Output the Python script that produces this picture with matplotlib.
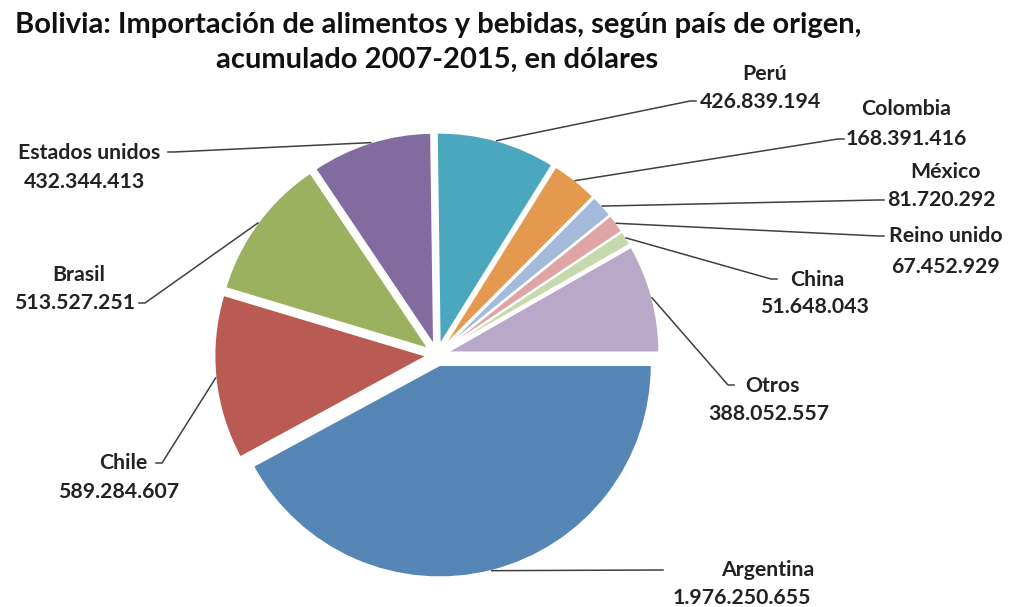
import numpy as np
import matplotlib.pyplot as plt

# Data: imports by country of origin, accumulated 2007-2015 (USD)
countries = ["Argentina", "Chile", "Brasil", "Estados unidos", "Perú",
             "Colombia", "México", "Reino unido", "China", "Otros"]
values = [1976250655, 589284607, 513527251, 432344413, 426839194,
          168391416, 81720292, 67452929, 51648043, 388052557]
colors = ["#5586B6", "#B95B53", "#9CB160", "#826C9F", "#4BA7BE",
          "#E4994E", "#A4BADB", "#DEA5A4", "#C6D9AD", "#B9A9C9"]

W, H = 1010, 607

# label layout in pixel coords (from top-left): name centre, value centre, leader end
name_pos = [(768, 570), (123, 463), (79, 275), (89, 153), (765, 74),
            (906, 109), (946, 172), (946, 236), (817, 280), (773, 386)]
value_pos = [(742, 598), (119, 492), (75, 303), (84, 182), (760, 102),
             (906, 139), (941, 200), (945, 267), (815, 307), (769, 414)]
leader_end = [(663, 570), (156, 463), (139, 303), (168, 152), (696, 101),
              (844, 139), (884, 200), (884, 236), (777, 279), (734, 385)]

plt.rcParams['font.family'] = ['Lato', 'DejaVu Sans']

fig = plt.figure(figsize=(W / 100, H / 100), dpi=100)
ax = fig.add_axes([0, 0, 1, 1])
ax.set_xlim(0, W)
ax.set_ylim(0, H)
ax.set_aspect('equal')
ax.axis('off')

radius = 212
wedges, _ = ax.pie(values, colors=colors, startangle=0, counterclock=False,
                   center=(437, H - 355), radius=radius,
                   explode=[10.5] * len(values),
                   wedgeprops=dict(edgecolor='white', linewidth=1.2))
ax.set_xlim(0, W)
ax.set_ylim(0, H)


def fmt(v):
    return f"{v:,}".replace(",", ".")


for i, w in enumerate(wedges):
    mid = np.deg2rad((w.theta1 + w.theta2) / 2)
    ax0 = w.center[0] + w.r * np.cos(mid)
    ay0 = w.center[1] + w.r * np.sin(mid)
    ex, ey = leader_end[i]
    ey = H - ey
    step = 6 if ex > ax0 else -6
    ax.plot([ax0, ex - step, ex], [ay0, ey, ey], color='#404040', lw=1.1)

    nx, ny = name_pos[i]
    vx, vy = value_pos[i]
    ax.text(nx, H - ny, countries[i], ha='center', va='center',
            fontsize=15.3, fontweight='bold', color='#222222')
    ax.text(vx, H - vy, fmt(values[i]), ha='center', va='center',
            fontsize=15.3, fontweight='bold', color='#222222')

ax.text(438, H - 25, "Bolivia: Importación de alimentos y bebidas, según país de origen,",
        ha='center', va='center', fontsize=21, fontweight='bold', color='#111111')
ax.text(437, H - 60, "acumulado 2007-2015, en dólares",
        ha='center', va='center', fontsize=21, fontweight='bold', color='#111111')

fig.savefig("out.png", dpi=100)
